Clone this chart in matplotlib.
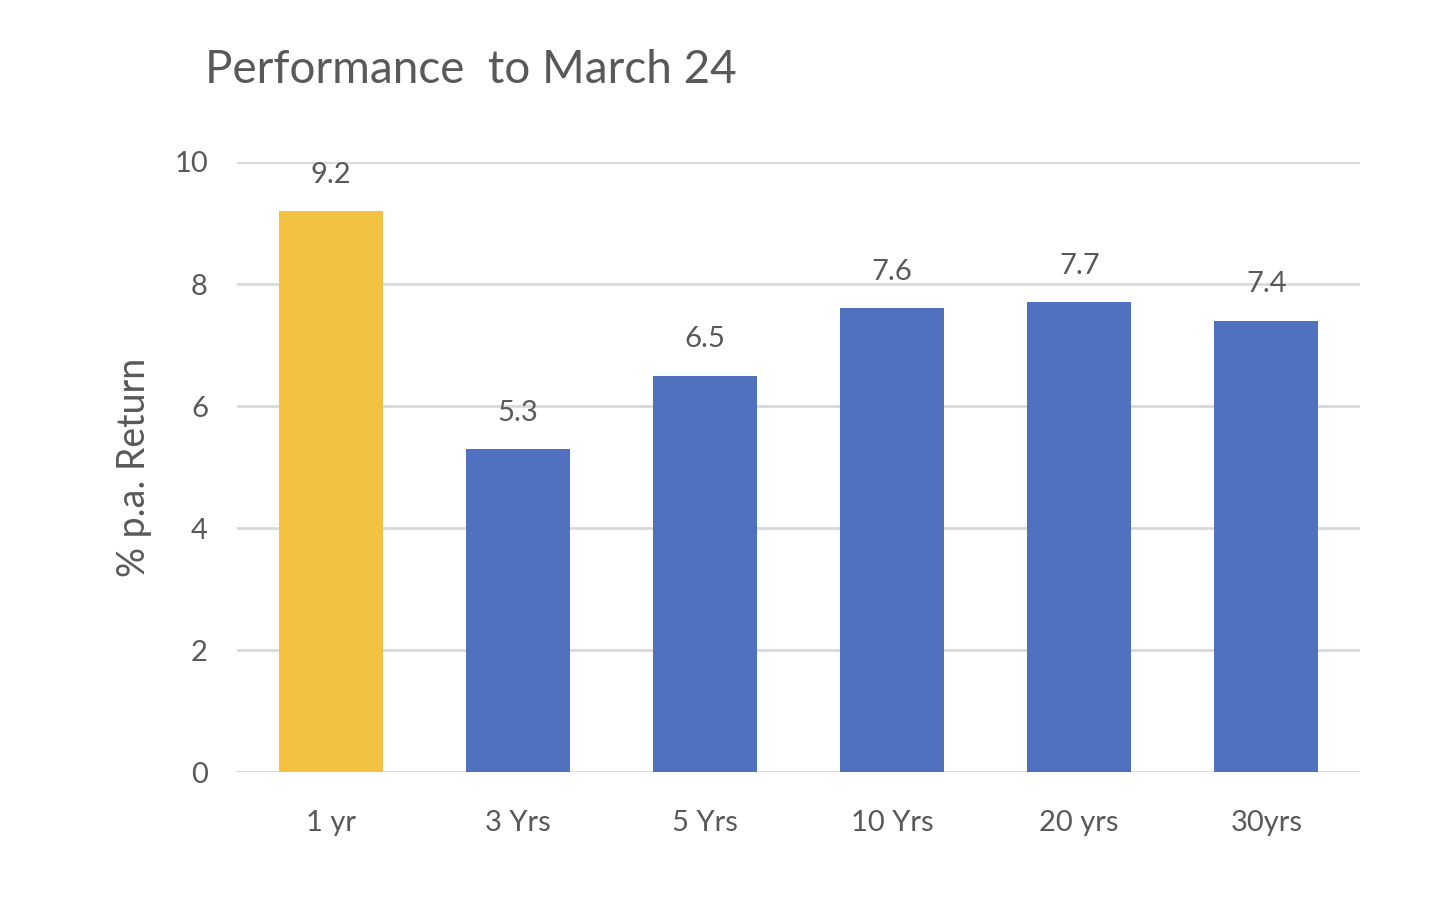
import matplotlib.pyplot as plt

categories = ["1 yr", "3 Yrs", "5 Yrs", "10 Yrs", "20 yrs", "30yrs"]
returns = [9.2, 5.3, 6.5, 7.6, 7.7, 7.4]
bar_colors = ["#F4C242", "#4F71BE", "#4F71BE", "#4F71BE", "#4F71BE", "#4F71BE"]
yticks = [0, 2, 4, 6, 8, 10]

text_color = "#595959"
plt.rcParams['font.family'] = ['Lato', 'DejaVu Sans']

fig = plt.figure(figsize=(14.42, 8.98), dpi=100)
ax = fig.add_axes([0.1644, 0.1403, 0.9431 - 0.1644, 0.8196 - 0.1403])

x = range(len(categories))
ax.bar(x, returns, width=0.556, color=bar_colors, zorder=3)

for i, v in enumerate(returns):
    ax.text(i, v + 0.38, f"{v}", ha='center', va='bottom', fontsize=21, color=text_color)

ax.set_xlim(-0.5, len(categories) - 0.5)
ax.set_ylim(0, 10)
ax.set_yticks(yticks)
ax.set_xticks(list(x))
ax.set_xticklabels(categories)
ax.tick_params(axis='both', length=0, labelsize=21, labelcolor=text_color)
ax.tick_params(axis='y', pad=21)
ax.tick_params(axis='x', pad=27)

ax.grid(axis='y', color='#D9D9D9', linewidth=2, zorder=0)
for s in ax.spines.values():
    s.set_visible(False)

ax.set_ylabel("% p.a. Return", fontsize=27, color=text_color)
ax.yaxis.set_label_coords(-0.0757, 0.5)
fig.text(0.142, 0.922, "Performance  to March 24", fontsize=33, color=text_color,
         ha='left', va='center')

fig.savefig("out.png", dpi=100)
